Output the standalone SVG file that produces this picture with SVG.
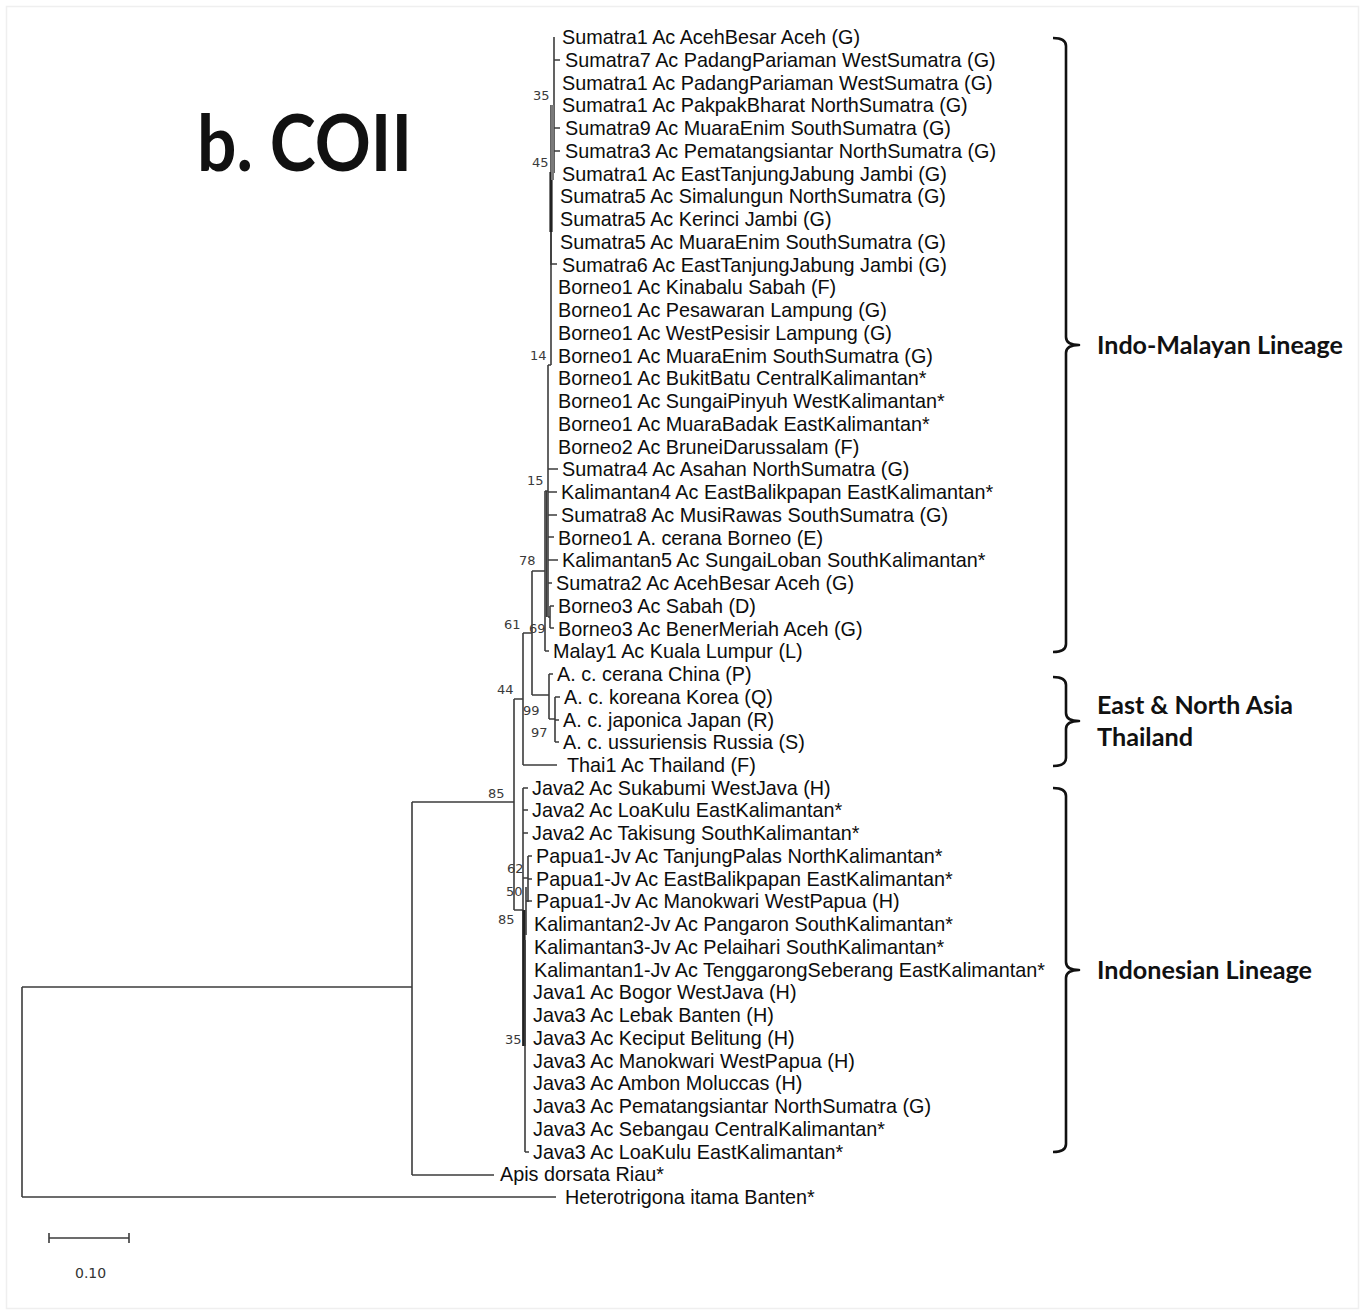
<svg xmlns="http://www.w3.org/2000/svg" width="1365" height="1314" viewBox="0 0 1365 1314">
<style>
.tx{font-family:"Liberation Sans",Arial,sans-serif;font-size:19.8px;fill:#0d0d0d}
.bs{font-family:"DejaVu Sans",Verdana,sans-serif;font-size:13px;fill:#3a3a3a}
.br{fill:none;stroke:#3c3c3c;stroke-width:1.6}
.thk{fill:none;stroke:#222;stroke-width:3.2}
.gry{fill:none;stroke:#7a7a7a;stroke-width:3}
.brk{fill:none;stroke:#111;stroke-width:2.6;stroke-linejoin:round}
.lin{font-family:Lato,"Open Sans",sans-serif;font-weight:700;font-size:24px;fill:#111}
</style>
<rect x="0" y="0" width="1365" height="1314" fill="#fff"/>
<rect x="6.5" y="6.5" width="1352" height="1302" fill="none" stroke="#efefef" stroke-width="1.5"/>
<g id="title"><text x="197" y="171" font-family="Lato,'Open Sans',sans-serif" font-weight="700" font-size="78" fill="#111" textLength="215" lengthAdjust="spacingAndGlyphs">b. COII</text></g>

<g id="connectors">
<path class="br" d="M22,987V1197M22,987H412M22,1197H556"/>
<path class="br" d="M412,802V1175M412,1175H494M412,802H514"/>
<path class="br" d="M514,699V910M514,699H523M514,910H523"/>
<path class="br" d="M523,633V765M523,765H557M523,633H532"/>
<path class="br" d="M532,571V695M532,571H545M532,695H549"/>
<path class="br" d="M549,674V719M549,674H553M549,719H555"/>
<path class="br" d="M555,697V742M555,697H560M555,720H559M555,742H559"/>
<path class="br" d="M545,491V651M545,651H549M545,491H548"/>
<path class="br" d="M548,365V617"/>
<path class="br" d="M546.5,491V617"/>
<path class="br" d="M548,469H558M548,492H557M548,515H557M548,537H554M548,560H558M548,583H552M548,617H550"/>
<path class="br" d="M550,606V628M550,606H554M550,628H554"/>
<path class="br" d="M551,172V365M548,365H551M551,264H557"/>
<path class="br" d="M551,105V265"/>
<path class="thk" d="M551,172V232"/>
<path class="br" d="M554,37V173M554,60H560M554,128H560M554,151H560"/>
<path class="gry" d="M552.5,105V180"/>
<path class="br" d="M523,788V1046M523,788H528M523,810H528M523,833H528"/>
<path class="thk" d="M524,910V1046"/>
<path class="br" d="M525,940V1152M525,1152H529"/>
<path class="br" d="M523,878H528M528,856V902M528,856H532M528,879H532"/>
<path class="br" d="M526,887V935M526,901H532"/>
</g>

<g id="taxa">
<g id="t0"><text class="tx" x="562" y="44">Sumatra1 Ac AcehBesar Aceh (G)</text></g>
<g id="t1"><text class="tx" x="565" y="67">Sumatra7 Ac PadangPariaman WestSumatra (G)</text></g>
<g id="t2"><text class="tx" x="562" y="89.5">Sumatra1 Ac PadangPariaman WestSumatra (G)</text></g>
<g id="t3"><text class="tx" x="562" y="112">Sumatra1 Ac PakpakBharat NorthSumatra (G)</text></g>
<g id="t4"><text class="tx" x="565" y="135">Sumatra9 Ac MuaraEnim SouthSumatra (G)</text></g>
<g id="t5"><text class="tx" x="565" y="158">Sumatra3 Ac Pematangsiantar NorthSumatra (G)</text></g>
<g id="t6"><text class="tx" x="562" y="180.5">Sumatra1 Ac EastTanjungJabung Jambi (G)</text></g>
<g id="t7"><text class="tx" x="560" y="203">Sumatra5 Ac Simalungun NorthSumatra (G)</text></g>
<g id="t8"><text class="tx" x="560" y="226">Sumatra5 Ac Kerinci Jambi (G)</text></g>
<g id="t9"><text class="tx" x="560" y="249">Sumatra5 Ac MuaraEnim SouthSumatra (G)</text></g>
<g id="t10"><text class="tx" x="562" y="271.5">Sumatra6 Ac EastTanjungJabung Jambi (G)</text></g>
<g id="t11"><text class="tx" x="558" y="294">Borneo1 Ac Kinabalu Sabah (F)</text></g>
<g id="t12"><text class="tx" x="558" y="317">Borneo1 Ac Pesawaran Lampung (G)</text></g>
<g id="t13"><text class="tx" x="558" y="340">Borneo1 Ac WestPesisir Lampung (G)</text></g>
<g id="t14"><text class="tx" x="558" y="362.5">Borneo1 Ac MuaraEnim SouthSumatra (G)</text></g>
<g id="t15"><text class="tx" x="558" y="385">Borneo1 Ac BukitBatu CentralKalimantan*</text></g>
<g id="t16"><text class="tx" x="558" y="408">Borneo1 Ac SungaiPinyuh WestKalimantan*</text></g>
<g id="t17"><text class="tx" x="558" y="431">Borneo1 Ac MuaraBadak EastKalimantan*</text></g>
<g id="t18"><text class="tx" x="558" y="453.5">Borneo2 Ac BruneiDarussalam (F)</text></g>
<g id="t19"><text class="tx" x="562" y="476">Sumatra4 Ac Asahan NorthSumatra (G)</text></g>
<g id="t20"><text class="tx" x="561" y="499">Kalimantan4 Ac EastBalikpapan EastKalimantan*</text></g>
<g id="t21"><text class="tx" x="561" y="521.5">Sumatra8 Ac MusiRawas SouthSumatra (G)</text></g>
<g id="t22"><text class="tx" x="558" y="544.5">Borneo1 A. cerana Borneo (E)</text></g>
<g id="t23"><text class="tx" x="562" y="567">Kalimantan5 Ac SungaiLoban SouthKalimantan*</text></g>
<g id="t24"><text class="tx" x="556" y="590">Sumatra2 Ac AcehBesar Aceh (G)</text></g>
<g id="t25"><text class="tx" x="558" y="612.5">Borneo3 Ac Sabah (D)</text></g>
<g id="t26"><text class="tx" x="558" y="635.5">Borneo3 Ac BenerMeriah Aceh (G)</text></g>
<g id="t27"><text class="tx" x="553" y="658">Malay1 Ac Kuala Lumpur (L)</text></g>
<g id="t28"><text class="tx" x="557" y="681">A. c. cerana China (P)</text></g>
<g id="t29"><text class="tx" x="564" y="703.5">A. c. koreana Korea (Q)</text></g>
<g id="t30"><text class="tx" x="563" y="726.5">A. c. japonica Japan (R)</text></g>
<g id="t31"><text class="tx" x="563" y="749">A. c. ussuriensis Russia (S)</text></g>
<g id="t32"><text class="tx" x="567" y="772">Thai1 Ac Thailand (F)</text></g>
<g id="t33"><text class="tx" x="532" y="794.5">Java2 Ac Sukabumi WestJava (H)</text></g>
<g id="t34"><text class="tx" x="532" y="817">Java2 Ac LoaKulu EastKalimantan*</text></g>
<g id="t35"><text class="tx" x="532" y="840">Java2 Ac Takisung SouthKalimantan*</text></g>
<g id="t36"><text class="tx" x="536" y="863">Papua1-Jv Ac TanjungPalas NorthKalimantan*</text></g>
<g id="t37"><text class="tx" x="536" y="885.5">Papua1-Jv Ac EastBalikpapan EastKalimantan*</text></g>
<g id="t38"><text class="tx" x="536" y="908">Papua1-Jv Ac Manokwari WestPapua (H)</text></g>
<g id="t39"><text class="tx" x="534" y="931">Kalimantan2-Jv Ac Pangaron SouthKalimantan*</text></g>
<g id="t40"><text class="tx" x="534" y="954">Kalimantan3-Jv Ac Pelaihari SouthKalimantan*</text></g>
<g id="t41"><text class="tx" x="534" y="976.5">Kalimantan1-Jv Ac TenggarongSeberang EastKalimantan*</text></g>
<g id="t42"><text class="tx" x="533" y="999">Java1 Ac Bogor WestJava (H)</text></g>
<g id="t43"><text class="tx" x="533" y="1022">Java3 Ac Lebak Banten (H)</text></g>
<g id="t44"><text class="tx" x="533" y="1045">Java3 Ac Keciput Belitung (H)</text></g>
<g id="t45"><text class="tx" x="533" y="1067.5">Java3 Ac Manokwari WestPapua (H)</text></g>
<g id="t46"><text class="tx" x="533" y="1090">Java3 Ac Ambon Moluccas (H)</text></g>
<g id="t47"><text class="tx" x="533" y="1113">Java3 Ac Pematangsiantar NorthSumatra (G)</text></g>
<g id="t48"><text class="tx" x="533" y="1136">Java3 Ac Sebangau CentralKalimantan*</text></g>
<g id="t49"><text class="tx" x="533" y="1158.5">Java3 Ac LoaKulu EastKalimantan*</text></g>
<g id="t50"><text class="tx" x="500" y="1181">Apis dorsata Riau*</text></g>
<g id="t51"><text class="tx" x="565" y="1204">Heterotrigona itama Banten*</text></g>
</g>

<g id="bootstrap">
<text class="bs" x="533" y="100">35</text>
<text class="bs" x="532" y="167">45</text>
<text class="bs" x="530" y="360">14</text>
<text class="bs" x="527" y="485">15</text>
<text class="bs" x="519" y="565">78</text>
<text class="bs" x="504" y="629">61</text>
<text class="bs" x="529" y="633">69</text>
<text class="bs" x="497" y="694">44</text>
<text class="bs" x="523" y="715">99</text>
<text class="bs" x="531" y="737">97</text>
<text class="bs" x="488" y="798">85</text>
<text class="bs" x="507" y="873">62</text>
<text class="bs" x="506" y="896">50</text>
<text class="bs" x="498" y="924">85</text>
<text class="bs" x="505" y="1044">35</text>
</g>

<g id="bracket-indomalayan">
<path class="brk" d="M1053,38Q1066,38 1066,46L1066,337Q1066,345 1079,345Q1066,345 1066,353L1066,644Q1066,652 1053,652"/>
<text class="lin" x="1097" y="354" textLength="246" lengthAdjust="spacingAndGlyphs">Indo-Malayan Lineage</text>
</g>
<g id="bracket-eastasia">
<path class="brk" d="M1053,677Q1066,677 1066,685L1066,713Q1066,721 1079,721Q1066,721 1066,729L1066,758Q1066,766 1053,766"/>
<text class="lin" x="1097" y="714" textLength="196" lengthAdjust="spacingAndGlyphs">East &amp; North Asia</text>
<text class="lin" x="1097" y="746" textLength="96" lengthAdjust="spacingAndGlyphs">Thailand</text>
</g>
<g id="bracket-indonesian">
<path class="brk" d="M1053,788Q1066,788 1066,796L1066,962Q1066,970 1079,970Q1066,970 1066,978L1066,1144Q1066,1152 1053,1152"/>
<text class="lin" x="1097" y="979" textLength="215" lengthAdjust="spacingAndGlyphs">Indonesian Lineage</text>
</g>

<g id="scalebar">
<path class="br" d="M49,1238H129M49,1233V1243M129,1233V1243"/>
<text x="75" y="1278" font-family="'DejaVu Sans',Verdana,sans-serif" font-size="14" fill="#333">0.10</text>
</g>
</svg>
